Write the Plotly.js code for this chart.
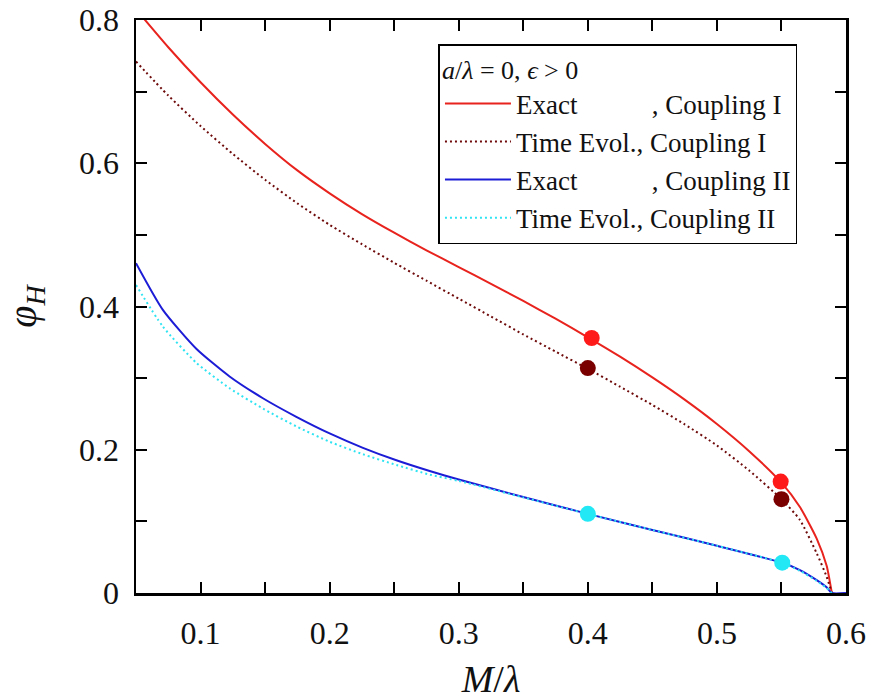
<!DOCTYPE html>
<html>
<head>
<meta charset="utf-8">
<script src="https://cdn.plot.ly/plotly-3.0.1.min.js"></script>
<style>html,body{margin:0;padding:0;background:#fff;}</style>
</head>
<body>
<div id="chart" style="width:882px;height:700px;"></div>
<script>
// Exact, Coupling I
const exactIX = [0.05, 0.075, 0.1, 0.125, 0.15, 0.175, 0.2, 0.225, 0.25, 0.275, 0.3, 0.325, 0.35, 0.375, 0.4, 0.425, 0.45, 0.475, 0.5, 0.525, 0.55, 0.5643, 0.5773, 0.585, 0.589];
const exactIY = [0.815, 0.762, 0.713, 0.668, 0.627, 0.590, 0.558, 0.529, 0.503, 0.4785, 0.455, 0.4316, 0.4077, 0.383, 0.357, 0.330, 0.301, 0.270, 0.236, 0.198, 0.154, 0.120, 0.076, 0.038, 0.0];
// Time Evol., Coupling I
const evolIX = [0.05, 0.075, 0.1, 0.125, 0.15, 0.175, 0.2, 0.225, 0.25, 0.275, 0.3, 0.325, 0.35, 0.375, 0.4, 0.425, 0.45, 0.475, 0.5, 0.525, 0.55, 0.5643, 0.5773, 0.585, 0.589];
const evolIY = [0.742, 0.6945, 0.652, 0.613, 0.577, 0.544, 0.514, 0.487, 0.461, 0.436, 0.411, 0.386, 0.361, 0.337, 0.313, 0.288, 0.2625, 0.2355, 0.206, 0.171, 0.131, 0.102, 0.0554, 0.0228, 0.0];
// Exact, Coupling II
const exactIIX = [0.05, 0.0708, 0.0967, 0.1225, 0.1483, 0.1742, 0.2, 0.2258, 0.2517, 0.2775, 0.3, 0.35, 0.4, 0.45, 0.5, 0.55, 0.5643, 0.5773, 0.585, 0.589, 0.6];
const exactIIY = [0.4605, 0.3953, 0.341, 0.3023, 0.2719, 0.246, 0.2228, 0.2027, 0.1853, 0.1703, 0.1584, 0.134, 0.1105, 0.088, 0.066, 0.0425, 0.032, 0.018, 0.008, 0.0, 0.0];
// Time Evol., Coupling II
const evolIIX = [0.05, 0.0708, 0.0967, 0.1225, 0.1483, 0.1742, 0.2, 0.2258, 0.2517, 0.2775, 0.3, 0.35, 0.4, 0.45, 0.5, 0.55, 0.5643, 0.5773, 0.585, 0.589];
const evolIIY = [0.43, 0.372, 0.3215, 0.2859, 0.2575, 0.2326, 0.2112, 0.1937, 0.1787, 0.1653, 0.1565, 0.1335, 0.1103, 0.088, 0.066, 0.0423, 0.031, 0.017, 0.007, 0.0];
// Highlighted points
const dotExactIX = [0.403, 0.5494];
const dotExactIY = [0.356, 0.1555];
const dotEvolIX = [0.4, 0.55];
const dotEvolIY = [0.314, 0.131];
const dotIIX = [0.4, 0.5506];
const dotIIY = [0.1105, 0.0423];

const legendNames = [
  'Exact\u00a0\u00a0\u00a0\u00a0\u00a0\u00a0\u00a0\u00a0\u00a0\u00a0\u00a0, Coupling I',
  'Time Evol., Coupling I',
  'Exact\u00a0\u00a0\u00a0\u00a0\u00a0\u00a0\u00a0\u00a0\u00a0\u00a0\u00a0, Coupling II',
  'Time Evol., Coupling II'
];
const xTickVals = [0.1, 0.2, 0.3, 0.4, 0.5, 0.6];
const xTickText = ['0.1', '0.2', '0.3', '0.4', '0.5', '0.6'];
const yTickVals = [0, 0.2, 0.4, 0.6, 0.8];
const yTickText = ['0', '0.2', '0.4', '0.6', '0.8'];

const RED = '#e8231e', DARKRED = '#6e0a0a', BLUE = '#1c1cd6', CYAN = '#2ee3f2';

const traces = [
  {x: exactIX, y: exactIY, mode: 'lines', name: legendNames[0], line: {color: RED, width: 2, shape: 'spline', smoothing: 0.6}},
  {x: evolIX, y: evolIY, mode: 'lines', name: legendNames[1], line: {color: DARKRED, width: 2, dash: '2px,3px', shape: 'spline', smoothing: 0.6}},
  {x: exactIIX, y: exactIIY, mode: 'lines', name: legendNames[2], line: {color: BLUE, width: 2, shape: 'spline', smoothing: 0.6}},
  {x: evolIIX, y: evolIIY, mode: 'lines', name: legendNames[3], line: {color: CYAN, width: 2, dash: '2px,3px', shape: 'spline', smoothing: 0.6}},
  {x: dotExactIX, y: dotExactIY, mode: 'markers', showlegend: false, marker: {color: '#ff1a1a', size: 16}},
  {x: dotEvolIX, y: dotEvolIY, mode: 'markers', showlegend: false, marker: {color: '#7a0000', size: 16}},
  {x: dotIIX, y: dotIIY, mode: 'markers', showlegend: false, marker: {color: '#22e8f5', size: 16}}
];

const FONT = 'Liberation Serif, Times New Roman, serif';
const axisCommon = {
  showline: true, linecolor: '#000', linewidth: 2.5, mirror: 'allticks',
  ticks: 'inside', ticklen: 11, tickwidth: 2, tickcolor: '#000',
  showgrid: false, zeroline: false,
  tickfont: {family: FONT, size: 32, color: '#111'}
};

const layout = {
  width: 882, height: 700,
  margin: {l: 136, r: 36, t: 20, b: 107},
  paper_bgcolor: '#fff', plot_bgcolor: '#fff',
  font: {family: FONT, color: '#111'},
  showlegend: true,
  xaxis: Object.assign({}, axisCommon, {
    range: [0.05, 0.6], tickmode: 'array', tickvals: xTickVals, ticktext: xTickText,
    minor: {dtick: 0.05, tick0: 0.05, ticks: 'inside', ticklen: 11, tickwidth: 2, tickcolor: '#000', showgrid: false},
    ticklabelstandoff: 10,
    title: {text: '<i>M</i>/<i>λ</i>', font: {family: FONT, size: 38, color: '#111'}, standoff: 18}
  }),
  yaxis: Object.assign({}, axisCommon, {
    range: [0, 0.8], tickmode: 'array', tickvals: yTickVals, ticktext: yTickText,
    minor: {dtick: 0.1, tick0: 0, ticks: 'inside', ticklen: 11, tickwidth: 2, tickcolor: '#000', showgrid: false},
    ticklabelstandoff: 8,
    title: {text: '<i>φ</i><sub><i>H</i></sub>', font: {family: FONT, size: 40, color: '#111'}, standoff: 30}
  }),
  legend: {
    x: 0.426, y: 0.958, xanchor: 'left', yanchor: 'top',
    bgcolor: '#fff', bordercolor: '#000', borderwidth: 1.5,
    font: {family: FONT, size: 27, color: '#111'},
    itemwidth: 66,
    title: {text: '<i>a</i>/<i>λ</i> = 0, <i>ϵ</i> &gt; 0', font: {family: FONT, size: 26, color: '#111'}}
  }
};

Plotly.newPlot('chart', traces, layout, {displayModeBar: false, staticPlot: true});
</script>
</body>
</html>
